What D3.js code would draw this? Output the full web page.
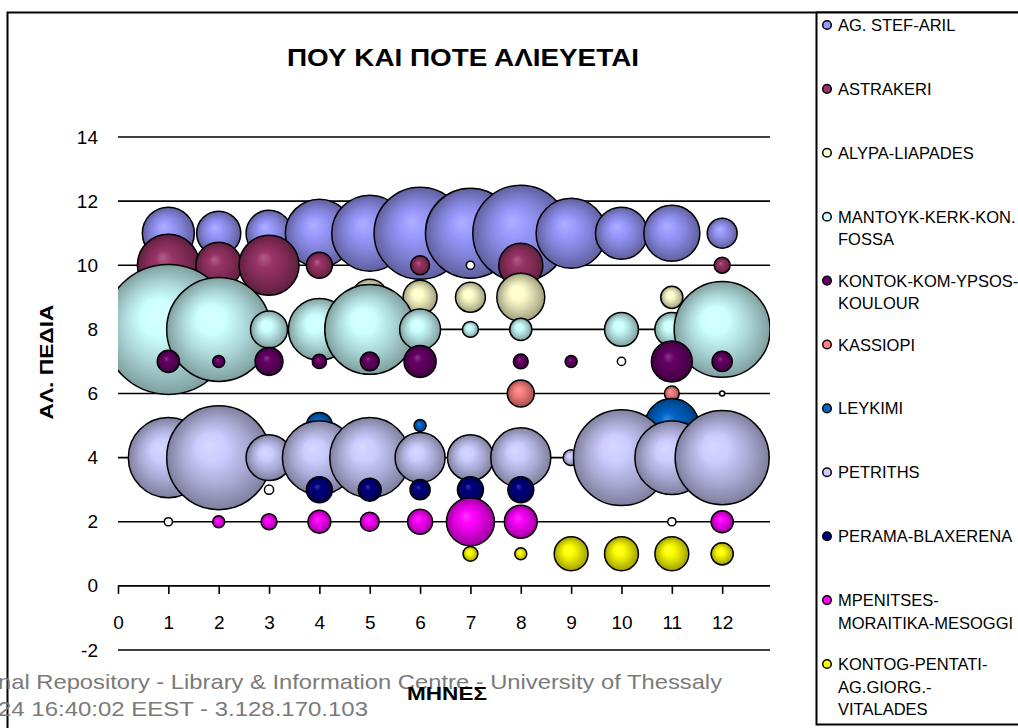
<!DOCTYPE html>
<html><head><meta charset="utf-8">
<script src="https://cdn.jsdelivr.net/npm/d3@7"></script>
<style>
body{margin:0;background:#fff}
svg{display:block}
text{font-family:"Liberation Sans",Arial,sans-serif}
</style>
</head><body>
<svg id="c" width="1018" height="728"></svg>
<script>
// ---------- data ----------
const months = [1,2,3,4,5,6,7,8,9,10,11,12];
const xTicks = [0,1,2,3,4,5,6,7,8,9,10,11,12];
const yTicks = [-2,0,2,4,6,8,10,12,14];
const titleText = "ΠΟΥ ΚΑΙ ΠΟΤΕ ΑΛΙΕΥΕΤΑΙ";
const xTitle = "ΜΗΝΕΣ";
const yTitle = "ΑΛ. ΠΕΔΙΑ";
const seriesLegendLines = [
  ["AG. STEF-ARIL"],
  ["ASTRAKERI"],
  ["ALYPA-LIAPADES"],
  ["MANTOYK-KERK-KON.","FOSSA"],
  ["KONTOK-KOM-YPSOS-","KOULOUR"],
  ["KASSIOPI"],
  ["LEYKIMI"],
  ["PETRITHS"],
  ["PERAMA-BLAXERENA"],
  ["MPENITSES-","MORAITIKA-MESOGGI"],
  ["KONTOG-PENTATI-","AG.GIORG.-","VITALADES"]
];
const seriesY = [11,10,9,8,7,6,5,4,3,2,1];
const seriesColors = ["#9999FF","#993366","#FFFFCC","#CCFFFF","#660066","#FF8080","#0066CC","#CCCCFF","#000080","#FF00FF","#FFFF00"];
// bubble sizes per month (null = no bubble, negative = shown as white bubble)
const sizeAgStef     = [16.0,11.5,12.5,27.4,34.2,50.1,47.9,54.5,29.0,16.0,18.6,5.3];
const sizeAstrakeri  = [22.7,12.5,21.3,4.0,null,2.1,-0.4,11.5,null,null,null,1.5];
const sizeAlypa      = [null,null,null,null,7.7,6.8,5.3,13.6,null,null,2.9,null];
const sizeMantoyk    = [100,64.0,8.1,22.7,47.9,9.9,1.5,2.9,null,6.8,6.8,54.5];
const sizeKontok     = [2.9,0.85,4.6,1.2,2.1,6.1,null,1.3,0.85,-0.4,9.9,2.4];
const sizeKassiopi   = [null,null,null,null,null,null,null,4.3,null,null,1.3,-0.15];
const sizeLeykimi    = [null,null,null,4.0,null,0.85,null,null,null,null,17.3,null];
const sizePetriths   = [37.9,64.0,12.5,32.4,37.9,14.8,12.5,21.3,1.5,54.5,32.4,52.3];
const sizePerama     = [null,null,-0.5,4.0,3.1,2.4,4.0,4.0,null,null,null,null];
const sizeMpenitses  = [-0.4,0.85,1.5,3.1,2.1,3.7,13.6,6.4,null,null,-0.4,2.9];
const sizeKontog     = [null,null,null,null,null,null,1.3,0.85,6.8,6.8,6.8,2.9];
const seriesSizes = [sizeAgStef,sizeAstrakeri,sizeAlypa,sizeMantoyk,sizeKontok,sizeKassiopi,sizeLeykimi,sizePetriths,sizePerama,sizeMpenitses,sizeKontog];
const watermark1 = "nal Repository - Library & Information Centre - University of Thessaly";
const watermark2 = "24 16:40:02 EEST - 3.128.170.103";

// ---------- layout ----------
const svg = d3.select("#c");
const P = {l:118, r:770, t:137, b:650};
const x = d3.scaleLinear().domain([0,12.95]).range([P.l,P.r]);
const y = d3.scaleLinear().domain([-2,14]).range([P.b,P.t]);
const allSizes = seriesSizes.flat().filter(v=>v!=null).map(Math.abs);
const rScale = d3.scaleSqrt().domain([0,d3.max(allSizes)]).range([0,65]);
const fmt = d => String(d);

svg.append("rect").attr("width",1018).attr("height",728).attr("fill","#fff");

const defs = svg.append("defs");
defs.append("clipPath").attr("id","plotclip").append("rect")
  .attr("x",P.l).attr("y",P.t-2).attr("width",P.r-P.l).attr("height",P.b-P.t+4);

seriesColors.forEach((c,i)=>{
  const base = d3.rgb(c);
  const scale = k => d3.rgb(base.r*k, base.g*k, base.b*k).formatHex();
  const g = defs.append("radialGradient").attr("id","g"+i)
    .attr("cx","50%").attr("cy","50%").attr("r","50%").attr("fx","40%").attr("fy","37%");
  g.append("stop").attr("offset","0%").attr("stop-color", d3.interpolateRgb(c,"#fff")(0.22));
  g.append("stop").attr("offset","28%").attr("stop-color", c);
  g.append("stop").attr("offset","62%").attr("stop-color", scale(0.84));
  g.append("stop").attr("offset","88%").attr("stop-color", scale(0.69));
  g.append("stop").attr("offset","100%").attr("stop-color", scale(0.62));
});

// outer frame
svg.append("rect").attr("x",7.5).attr("y",12.5).attr("width",1200).attr("height",900)
  .attr("fill","none").attr("stroke","#000").attr("stroke-width",2);

// gridlines
svg.append("g").selectAll("line").data(yTicks.filter(v=>v!==0)).join("line")
  .attr("x1",P.l).attr("x2",P.r).attr("y1",d=>y(d)).attr("y2",d=>y(d))
  .attr("stroke","#000").attr("stroke-width",1.6);

// x axis
const xAxis = d3.axisBottom(x).tickValues(xTicks).tickSize(8).tickPadding(22).tickFormat(fmt);
const gx = svg.append("g").attr("transform",`translate(0,${y(0)})`).call(xAxis);
gx.select(".domain").remove();
gx.selectAll(".tick line").attr("stroke","#000").attr("stroke-width",1.6);
gx.selectAll(".tick text").attr("font-size",19).attr("fill","#000").attr("font-family","Liberation Sans, Arial, sans-serif");
svg.append("line").attr("x1",P.l).attr("x2",P.r).attr("y1",y(0)).attr("y2",y(0))
  .attr("stroke","#000").attr("stroke-width",1.8);

// y axis labels
const yAxis = d3.axisLeft(y).tickValues(yTicks).tickSize(0).tickPadding(20).tickFormat(fmt);
const gy = svg.append("g").attr("transform",`translate(${P.l},0)`).call(yAxis);
gy.select(".domain").remove();
gy.selectAll(".tick text").attr("font-size",19).attr("fill","#000").attr("font-family","Liberation Sans, Arial, sans-serif");

// bubbles
const plot = svg.append("g").attr("clip-path","url(#plotclip)");
seriesSizes.forEach((sizes,i)=>{
  const pts = months.map((m,j)=>({m, v:sizes[j]})).filter(d=>d.v!=null);
  plot.append("g").selectAll("circle").data(pts).join("circle")
    .attr("cx",d=>x(d.m)).attr("cy",y(seriesY[i]))
    .attr("r",d=>rScale(Math.abs(d.v)))
    .attr("fill",d=>d.v<0 ? "#fff" : `url(#g${i})`)
    .attr("stroke","#000").attr("stroke-width",1.5);
});

// title
svg.append("text").attr("x",463).attr("y",66).attr("text-anchor","middle")
  .attr("font-size",23).attr("font-weight","bold").attr("textLength",352).attr("lengthAdjust","spacingAndGlyphs")
  .text(titleText);

// y title
svg.append("text").attr("transform","translate(53,362) rotate(-90)").attr("text-anchor","middle")
  .attr("font-size",19).attr("font-weight","bold").attr("textLength",115).attr("lengthAdjust","spacingAndGlyphs")
  .text(yTitle);

// legend
svg.append("rect").attr("x",816.5).attr("y",12.5).attr("width",400).attr("height",712)
  .attr("fill","#fff").attr("stroke","#000").attr("stroke-width",2);
const lg = svg.append("g");
seriesLegendLines.forEach((lines,i)=>{
  const cy = 25 + i*63.9;
  lg.append("circle").attr("cx",827).attr("cy",cy).attr("r",4.3)
    .attr("fill",seriesColors[i]).attr("stroke","#000").attr("stroke-width",1.5);
  const t = lg.append("text").attr("x",838).attr("y",cy+6).attr("font-size",16.5).attr("fill","#000");
  lines.forEach((ln,k)=>{
    t.append("tspan").attr("x",838).attr("dy",k===0?0:22.5).text(ln);
  });
});

// watermark
svg.append("text").attr("x",-2).attr("y",689).attr("font-size",21).attr("fill","#7a7a7a")
  .attr("textLength",724).attr("lengthAdjust","spacingAndGlyphs").text(watermark1);
svg.append("text").attr("x",-2).attr("y",716).attr("font-size",21).attr("fill","#7a7a7a")
  .attr("textLength",370).attr("lengthAdjust","spacingAndGlyphs").text(watermark2);

// x title
svg.append("text").attr("x",447).attr("y",700).attr("text-anchor","middle")
  .attr("font-size",19).attr("font-weight","bold").attr("textLength",80).attr("lengthAdjust","spacingAndGlyphs")
  .text(xTitle);
</script>
</body></html>
